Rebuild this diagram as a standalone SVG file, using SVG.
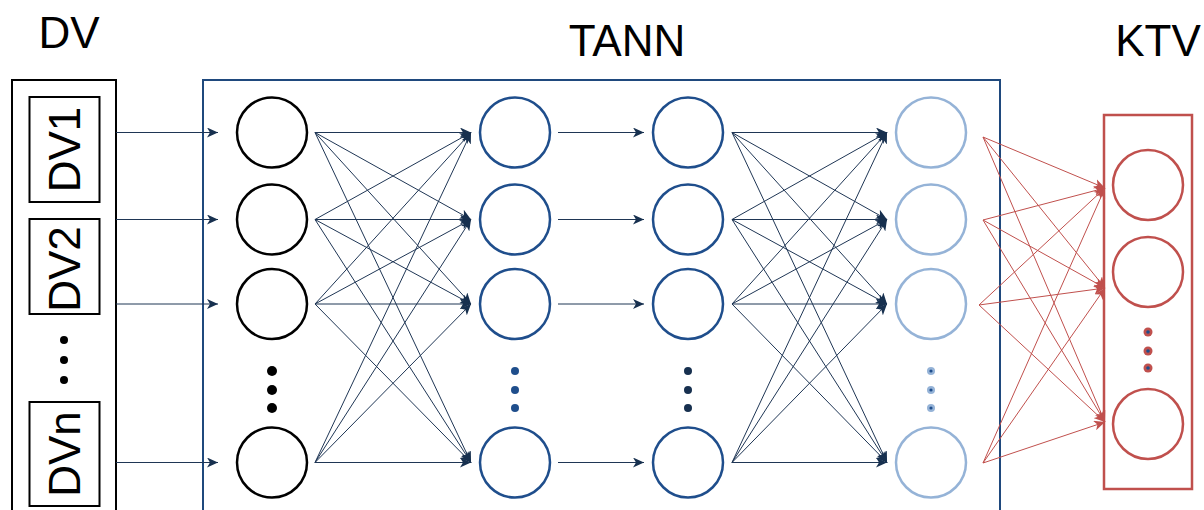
<svg xmlns="http://www.w3.org/2000/svg" width="1204" height="510" viewBox="0 0 1204 510">
<defs>
<marker id="an" markerUnits="userSpaceOnUse" markerWidth="12" markerHeight="10" refX="11" refY="5" orient="auto"><path d="M0,0 L11,5 L0,10 L3,5 Z" fill="#17304f"/></marker>
<marker id="ar" markerUnits="userSpaceOnUse" markerWidth="12" markerHeight="10" refX="11" refY="5" orient="auto"><path d="M0,0 L11,5 L0,10 L3,5 Z" fill="#c0504d"/></marker>
<style>
.t{font-family:"Liberation Sans",Arial,sans-serif;font-size:44px;fill:#000}
.c1{fill:none;stroke:#000;stroke-width:2.5}
.c2{fill:none;stroke:#1f4e8c;stroke-width:2.5}
.c4{fill:none;stroke:#95b3d7;stroke-width:2.5}
.cr{fill:none;stroke:#c0504d;stroke-width:2.5}
.n{fill:none;stroke:#1f3655;stroke-width:1;marker-end:url(#an)}
.r{fill:none;stroke:#c0504d;stroke-width:1;marker-end:url(#ar)}
</style>
</defs>
<text class="t" x="69" y="48" text-anchor="middle">DV</text>
<text class="t" x="627" y="56" text-anchor="middle">TANN</text>
<text class="t" x="1158" y="56" text-anchor="middle">KTV</text>
<g id="dv">
<rect x="12" y="80" width="104" height="440" fill="none" stroke="#000" stroke-width="2"/>
<rect x="29.5" y="97" width="70" height="105" fill="none" stroke="#000" stroke-width="2"/>
<text class="t" text-anchor="middle" transform="translate(80,149.5) rotate(-90)">DV1</text>
<rect x="29.5" y="219" width="70" height="95" fill="none" stroke="#000" stroke-width="2"/>
<text class="t" text-anchor="middle" transform="translate(80,269) rotate(-90)">DV2</text>
<circle cx="64" cy="340" r="4"/><circle cx="64" cy="360" r="4"/><circle cx="64" cy="380" r="4"/>
<rect x="29.5" y="402" width="70" height="104" fill="none" stroke="#000" stroke-width="2"/>
<text class="t" text-anchor="middle" transform="translate(80,454) rotate(-90)">DVn</text>
</g>
<g id="tann">
<rect x="203" y="80" width="797" height="440" fill="none" stroke="#1f497d" stroke-width="2"/>
</g>
<g id="layer1">
<circle class="c1" cx="272" cy="132.5" r="35"/><circle class="c1" cx="272" cy="219.5" r="35"/><circle class="c1" cx="272" cy="304" r="35"/><circle class="c1" cx="272" cy="462.5" r="35"/>
<circle cx="272" cy="371" r="5"/><circle cx="272" cy="390" r="5"/><circle cx="272" cy="408" r="5"/>
</g>
<g id="layer2">
<circle class="c2" cx="515" cy="132.5" r="35"/><circle class="c2" cx="515" cy="219.5" r="35"/><circle class="c2" cx="515" cy="304" r="35"/><circle class="c2" cx="515" cy="462.5" r="35"/>
<circle cx="515" cy="371" r="4" fill="#1f4e8c"/><circle cx="515" cy="390" r="4" fill="#1f4e8c"/><circle cx="515" cy="408" r="4" fill="#1f4e8c"/>
</g>
<g id="layer3">
<circle class="c2" cx="688" cy="132.5" r="35"/><circle class="c2" cx="688" cy="219.5" r="35"/><circle class="c2" cx="688" cy="304" r="35"/><circle class="c2" cx="688" cy="462.5" r="35"/>
<circle cx="688" cy="371" r="4" fill="#17304f"/><circle cx="688" cy="390" r="4" fill="#17304f"/><circle cx="688" cy="408" r="4" fill="#17304f"/>
</g>
<g id="layer4">
<circle class="c4" cx="931" cy="132.5" r="35"/><circle class="c4" cx="931" cy="219.5" r="35"/><circle class="c4" cx="931" cy="304" r="35"/><circle class="c4" cx="931" cy="462.5" r="35"/>
<g fill="#95b3d7"><circle cx="931" cy="371" r="4"/><circle cx="931" cy="390" r="4"/><circle cx="931" cy="408" r="4"/></g>
<g fill="#1f4e8c"><circle cx="931" cy="371" r="1.6"/><circle cx="931" cy="390" r="1.6"/><circle cx="931" cy="408" r="1.6"/></g>
</g>
<g id="ktv">
<rect x="1104" y="115" width="88" height="374" fill="none" stroke="#c0504d" stroke-width="2.5"/>
<circle class="cr" cx="1148" cy="185" r="35"/><circle class="cr" cx="1148" cy="272" r="35"/><circle class="cr" cx="1148" cy="424" r="35"/>
<g fill="#c0504d"><circle cx="1148" cy="332" r="4.5"/><circle cx="1148" cy="351" r="4.5"/><circle cx="1148" cy="368" r="4.5"/></g>
<g fill="#1f4e8c"><circle cx="1148" cy="332" r="1.8"/><circle cx="1148" cy="351" r="1.8"/><circle cx="1148" cy="368" r="1.8"/></g>
</g>
<g id="connectors">
<path class="n" d="M116,132.5H218"/><path class="n" d="M116,219.5H218"/><path class="n" d="M116,304H218"/><path class="n" d="M116,462.5H218"/>
<path class="n" d="M315,132.5L471,132.5"/><path class="n" d="M315,132.5L471,219.5"/><path class="n" d="M315,132.5L471,304"/><path class="n" d="M315,132.5L471,462.5"/>
<path class="n" d="M315,219.5L471,132.5"/><path class="n" d="M315,219.5L471,219.5"/><path class="n" d="M315,219.5L471,304"/><path class="n" d="M315,219.5L471,462.5"/>
<path class="n" d="M315,304L471,132.5"/><path class="n" d="M315,304L471,219.5"/><path class="n" d="M315,304L471,304"/><path class="n" d="M315,304L471,462.5"/>
<path class="n" d="M315,462.5L471,132.5"/><path class="n" d="M315,462.5L471,219.5"/><path class="n" d="M315,462.5L471,304"/><path class="n" d="M315,462.5L471,462.5"/>
<path class="n" d="M558,132.5H644"/><path class="n" d="M558,219.5H644"/><path class="n" d="M558,304H644"/><path class="n" d="M558,462.5H644"/>
<path class="n" d="M732,132.5L887,132.5"/><path class="n" d="M732,132.5L887,219.5"/><path class="n" d="M732,132.5L887,304"/><path class="n" d="M732,132.5L887,462.5"/>
<path class="n" d="M732,219.5L887,132.5"/><path class="n" d="M732,219.5L887,219.5"/><path class="n" d="M732,219.5L887,304"/><path class="n" d="M732,219.5L887,462.5"/>
<path class="n" d="M732,304L887,132.5"/><path class="n" d="M732,304L887,219.5"/><path class="n" d="M732,304L887,304"/><path class="n" d="M732,304L887,462.5"/>
<path class="n" d="M732,462.5L887,132.5"/><path class="n" d="M732,462.5L887,219.5"/><path class="n" d="M732,462.5L887,304"/><path class="n" d="M732,462.5L887,462.5"/>
<path class="r" d="M983,137L1105,188"/><path class="r" d="M983,137L1105,288"/><path class="r" d="M983,137L1105,422"/>
<path class="r" d="M983,220L1105,188"/><path class="r" d="M983,220L1105,288"/><path class="r" d="M983,220L1105,422"/>
<path class="r" d="M979,305L1105,188"/><path class="r" d="M979,305L1105,288"/><path class="r" d="M979,305L1105,422"/>
<path class="r" d="M983,463L1105,188"/><path class="r" d="M983,463L1105,288"/><path class="r" d="M983,463L1105,422"/>
</g>
</svg>
